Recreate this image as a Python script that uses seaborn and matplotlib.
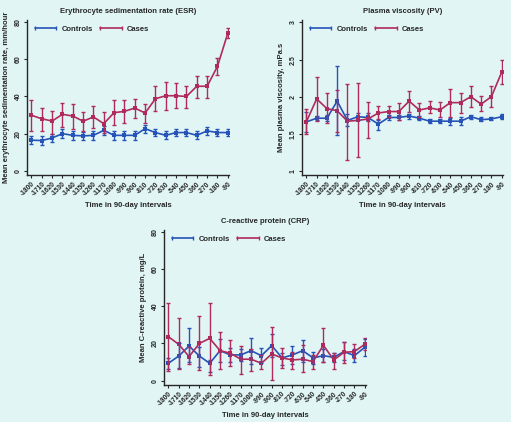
import pandas as pd
import matplotlib.pyplot as plt
import seaborn as sns
from matplotlib.lines import Line2D

# Time points (days before diagnosis)
days = [-1800, -1710, -1620, -1530, -1440, -1350, -1260, -1170, -1080, -990,
        -900, -810, -720, -630, -540, -450, -360, -270, -180, -90]

# ESR (mm/hour)
esr_ctrl = [16.5, 16.3, 17.7, 20.0, 19.1, 18.8, 19.1, 21.8, 19.1, 19.1,
            19.1, 22.7, 20.6, 19.1, 20.6, 20.6, 19.1, 21.5, 20.6, 20.6]
esr_ctrl_lo = [14.3, 14.0, 15.6, 17.7, 16.5, 16.5, 16.5, 19.5, 16.8, 16.8,
               16.8, 20.6, 18.6, 17.0, 18.6, 18.6, 17.0, 19.4, 18.6, 18.6]
esr_ctrl_hi = [18.6, 18.5, 20.0, 22.4, 21.6, 21.1, 21.6, 24.0, 21.4, 21.4,
               21.4, 24.7, 22.6, 21.2, 22.6, 22.6, 21.2, 23.6, 22.6, 22.6]
esr_case = [29.9, 28.0, 26.8, 30.4, 29.5, 26.7, 29.0, 25.4, 31.3, 32.0,
            33.8, 31.1, 38.8, 40.4, 40.4, 40.0, 45.5, 45.5, 56.2, 74.0]
esr_case_lo = [21.5, 21.5, 20.0, 23.6, 22.7, 21.5, 23.0, 20.4, 24.5, 25.8,
               28.6, 26.0, 32.2, 32.6, 34.0, 34.0, 39.4, 39.4, 51.7, 71.4]
esr_case_hi = [38.0, 34.0, 32.4, 36.5, 36.0, 31.9, 34.7, 31.7, 38.0, 38.0,
               38.7, 36.0, 45.5, 48.0, 47.0, 45.8, 51.2, 51.2, 60.5, 77.0]

# Plasma viscosity (mPa.s)
pv_ctrl = [1.66, 1.71, 1.71, 1.94, 1.68, 1.73, 1.72, 1.63, 1.72, 1.72,
           1.74, 1.71, 1.67, 1.67, 1.67, 1.67, 1.73, 1.69, 1.70, 1.73]
pv_ctrl_lo = [1.52, 1.68, 1.67, 1.49, 1.60, 1.68, 1.67, 1.55, 1.68, 1.69,
              1.70, 1.68, 1.64, 1.65, 1.62, 1.62, 1.70, 1.67, 1.68, 1.70]
pv_ctrl_hi = [1.80, 1.74, 1.76, 2.42, 1.77, 1.78, 1.78, 1.68, 1.76, 1.76,
              1.77, 1.74, 1.70, 1.70, 1.71, 1.72, 1.76, 1.72, 1.73, 1.77]
pv_case = [1.66, 1.97, 1.84, 1.81, 1.67, 1.68, 1.70, 1.78, 1.80, 1.80,
           1.94, 1.82, 1.85, 1.82, 1.92, 1.92, 2.00, 1.90, 2.00, 2.33]
pv_case_lo = [1.50, 1.67, 1.64, 1.52, 1.15, 1.19, 1.44, 1.70, 1.73, 1.69,
              1.80, 1.73, 1.78, 1.72, 1.72, 1.78, 1.86, 1.81, 1.86, 2.17]
pv_case_hi = [1.83, 2.27, 2.05, 2.09, 2.17, 2.18, 1.93, 1.87, 1.87, 1.92,
              2.08, 1.92, 1.94, 1.93, 2.10, 2.05, 2.15, 2.01, 2.15, 2.50]

# C-reactive protein (mg/L)
crp_ctrl = [9.3, 13.2, 18.6, 13.2, 9.3, 16.1, 13.8, 13.8, 16.1, 13.4,
            18.8, 12.2, 13.8, 16.1, 12.2, 13.4, 12.5, 15.6, 13.4, 17.9]
crp_ctrl_lo = [6.0, 7.0, 10.0, 7.5, 4.5, 10.0, 10.0, 10.5, 9.0, 9.5,
               12.5, 8.5, 9.0, 10.0, 9.0, 10.0, 10.0, 11.0, 10.0, 13.0]
crp_ctrl_hi = [12.0, 20.0, 28.5, 18.0, 11.0, 22.5, 17.5, 17.0, 23.0, 17.5,
               25.0, 15.0, 18.5, 22.0, 15.5, 17.0, 15.0, 21.0, 17.0, 22.5]
crp_case = [23.6, 19.5, 12.9, 20.0, 22.7, 16.1, 14.7, 11.5, 11.5, 9.3,
            14.3, 12.2, 11.1, 11.5, 10.2, 19.0, 11.1, 15.2, 15.6, 19.5]
crp_case_lo = [5.0, 6.0, 9.0, 5.5, 3.0, 6.0, 8.0, 3.5, 5.0, 6.0,
               0.5, 7.0, 6.5, 4.5, 6.0, 10.0, 6.5, 9.5, 12.0, 16.5]
crp_case_hi = [42.0, 33.5, 18.0, 34.5, 42.0, 26.0, 22.0, 18.5, 17.0, 14.0,
               29.0, 17.5, 15.5, 19.0, 14.0, 28.5, 15.0, 21.0, 19.5, 23.0]

BLUE = '#2553b8'
RED = '#b02a5c'
BG = '#e1f5f5'
FONT = ['Liberation Sans', 'DejaVu Sans']

sns.set_style('ticks')
plt.rcParams['font.family'] = FONT
plt.rcParams['axes.linewidth'] = 1.0


def draw_panel(ax, title, ylabel, ctrl, ctrl_lo, ctrl_hi, case, case_lo, case_hi,
               yticks, yticklabels, ylim):
    # Long-form frame for the two groups
    df = pd.DataFrame({
        'day': days + days,
        'value': ctrl + case,
        'group': ['Controls'] * len(days) + ['Cases'] * len(days),
    })
    sns.lineplot(data=df, x='day', y='value', hue='group',
                 palette={'Controls': BLUE, 'Cases': RED},
                 marker='s', markersize=2.5, markeredgewidth=0,
                 linewidth=1.2, legend=False, ax=ax)

    # Error bars
    for vals, lo, hi, col in [(ctrl, ctrl_lo, ctrl_hi, BLUE),
                              (case, case_lo, case_hi, RED)]:
        err = [[v - l for v, l in zip(vals, lo)], [h - v for v, h in zip(vals, hi)]]
        ax.errorbar(days, vals, yerr=err, fmt='none', ecolor=col,
                    elinewidth=1.0, capsize=1.6, capthick=1.0)

    ax.set_facecolor(BG)
    ax.set_xlim(-1838, -80)
    ax.set_ylim(*ylim)
    ax.set_xticks(days)
    ax.set_xticklabels([str(d) for d in days], rotation=45, ha='right',
                       rotation_mode='anchor', fontsize=4.8, fontweight='bold')
    ax.set_yticks(yticks)
    ax.set_yticklabels(yticklabels, rotation=90, va='center',
                       fontsize=5, fontweight='bold')
    ax.tick_params(length=2.5, width=0.8, pad=1.5)
    sns.despine(ax=ax)

    ax.set_title(title, fontsize=5.5, fontweight='bold', pad=5)
    ax.set_xlabel('Time in 90-day intervals', fontsize=5.5, fontweight='bold', labelpad=3)
    ax.set_ylabel(ylabel, fontsize=5.5, fontweight='bold', labelpad=3)

    handles = [Line2D([], [], color=BLUE, lw=1.2, marker='|', markersize=3, mew=1),
               Line2D([], [], color=RED, lw=1.2, marker='|', markersize=3, mew=1)]
    ax.legend(handles, ['Controls', 'Cases'], loc='upper left', ncol=2,
              frameon=False, numpoints=2, handlelength=3.4, handletextpad=0.4,
              columnspacing=0.7, borderaxespad=0.3,
              prop={'size': 5.5, 'weight': 'bold', 'family': FONT},
              bbox_to_anchor=(0.0, 1.0))


fig = plt.figure(figsize=(5.11, 4.22), dpi=100, facecolor=BG)

ax1 = fig.add_axes([0.053, 0.585, 0.395, 0.367])
draw_panel(ax1, 'Erythrocyte sedimentation rate (ESR)',
           'Mean erythrocyte sedimentation rate, mm/hour',
           esr_ctrl, esr_ctrl_lo, esr_ctrl_hi, esr_case, esr_case_lo, esr_case_hi,
           [0, 20, 40, 60, 80], ['0', '20', '40', '60', '80'], (-2.3, 81))

ax2 = fig.add_axes([0.591, 0.585, 0.393, 0.367])
draw_panel(ax2, 'Plasma viscosity (PV)', 'Mean plasma viscosity, mPa.s',
           pv_ctrl, pv_ctrl_lo, pv_ctrl_hi, pv_case, pv_case_lo, pv_case_hi,
           [1, 1.5, 2, 2.5, 3], ['1', '1.5', '2', '2.5', '3'], (0.943, 3.03))

ax3 = fig.add_axes([0.321, 0.088, 0.395, 0.367])
draw_panel(ax3, 'C-reactive protein (CRP)', 'Mean C-reactive protein, mg/L',
           crp_ctrl, crp_ctrl_lo, crp_ctrl_hi, crp_case, crp_case_lo, crp_case_hi,
           [0, 20, 40, 60, 80], ['0', '20', '40', '60', '80'], (-2.3, 81))

fig.savefig('out.png', dpi=100, facecolor=BG)
